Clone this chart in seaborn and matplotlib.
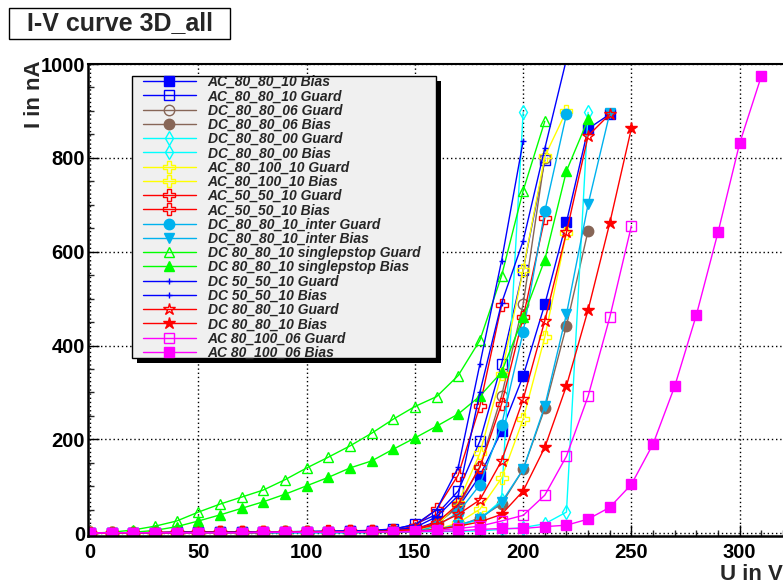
import pandas as pd
import matplotlib
matplotlib.use('Agg')
from matplotlib import pyplot as plt
from matplotlib.patches import Rectangle
from matplotlib.ticker import MultipleLocator
import seaborn as sns

sns.set_theme(style='white')
plt.rcParams['font.family'] = ['Liberation Sans', 'DejaVu Sans']
plt.rcParams['font.weight'] = 'bold'

#voltage steps (V)
volts = [0, 10, 20, 30, 40, 50, 60, 70, 80, 90, 100, 110, 120, 130, 140, 150,
         160, 170, 180, 190, 200, 210, 220, 230, 240, 250, 260, 270, 280, 290, 300, 310]

#currents in nA
ac_80_80_10_bias = [0, 1, 1, 1, 2, 2, 2, 2, 3, 3, 3, 3, 4, 4, 5, 8, 25, 55, 122, 218, 335, 488, 663, 862, 893]
ac_80_80_10_guard = [0, 1, 1, 1, 1, 2, 2, 2, 2, 3, 3, 3, 4, 5, 8, 19, 40, 90, 196, 360, 561, 795]
dc_80_80_06_guard = [0, 1, 1, 1, 1, 1, 2, 2, 2, 2, 2, 3, 3, 4, 5, 8, 20, 55, 142, 292, 488, 800]
dc_80_80_06_bias = [0, 0, 1, 1, 1, 1, 1, 1, 2, 2, 2, 2, 2, 3, 3, 4, 7, 15, 33, 62, 136, 266, 442, 645]
dc_80_80_00_guard = [0, 0, 1, 1, 1, 1, 1, 1, 1, 2, 2, 2, 2, 2, 3, 4, 8, 15, 30, 70, 897]
dc_80_80_00_bias = [0, 0, 1, 1, 1, 1, 1, 1, 1, 1, 2, 2, 2, 2, 2, 3, 3, 4, 5, 8, 12, 20, 45, 897]
ac_80_100_10_guard = [0, 1, 1, 1, 1, 1, 2, 2, 2, 2, 2, 3, 3, 3, 4, 6, 15, 65, 170, 339, 561, 803, 900]
ac_80_100_10_bias = [0, 0, 1, 1, 1, 1, 1, 1, 2, 2, 2, 2, 2, 3, 3, 4, 8, 22, 51, 117, 243, 418, 640]
ac_50_50_10_guard = [0, 1, 1, 2, 2, 2, 2, 3, 3, 3, 3, 4, 4, 5, 6, 15, 51, 124, 271, 486]
ac_50_50_10_bias = [0, 1, 1, 1, 2, 2, 2, 2, 3, 3, 3, 3, 4, 4, 5, 8, 22, 62, 140, 275, 460, 672]
dc_inter_guard = [0, 1, 1, 1, 1, 1, 1, 1, 1, 1, 1, 1, 1, 2, 2, 3, 15, 44, 103, 230, 429, 686, 893]
dc_inter_bias = [0, 0, 0, 1, 1, 1, 1, 1, 1, 1, 1, 1, 1, 1, 2, 3, 8, 18, 30, 66, 136, 271, 467, 701, 895]
single_guard = [0, 2, 7, 15, 26, 45, 62, 77, 92, 114, 139, 162, 186, 213, 243, 270, 291, 336, 411, 548, 730, 878]
single_bias = [0, 0.5, 2, 6, 14, 26, 39, 53, 67, 83, 101, 119, 139, 154, 179, 203, 228, 254, 292, 343, 460, 583, 772, 882]
dc_50_50_10_guard = [0, 1, 1, 1, 2, 2, 2, 3, 3, 3, 4, 4, 5, 6, 9, 18, 50, 140, 360, 580, 836]
dc_50_50_10_bias = [0, 1, 1, 1, 1, 2, 2, 2, 3, 3, 3, 4, 4, 5, 7, 12, 35, 80, 300, 490, 623, 820, 1010]
dc_80_80_10_guard = [0, 1, 1, 1, 1, 2, 2, 2, 2, 2, 3, 3, 3, 4, 5, 8, 18, 40, 71, 154, 285, 453, 641, 847, 893]
dc_80_80_10_bias = [0, 0, 1, 1, 1, 1, 1, 1, 1, 2, 2, 2, 2, 2, 3, 4, 8, 15, 24, 40, 90, 183, 314, 476, 661, 863]
ac_80_100_06_guard = [0, 1, 1, 1, 1, 1, 1, 1, 2, 2, 2, 2, 2, 3, 3, 4, 6, 10, 15, 26, 38, 81, 164, 292, 460, 655]
ac_80_100_06_bias = [0, 1, 1, 1, 1, 1, 1, 1, 2, 2, 2, 2, 2, 3, 3, 3, 4, 5, 8, 10, 10, 14, 17, 30, 55, 104, 190, 313, 465, 641, 831, 974]

blue = '#0000ff'
brown = '#876657'
cyan = '#00ffff'
yellow = '#ffff00'
red = '#ff0000'
azure = '#00b2ee'
green = '#00ff00'
magenta = '#ff00ff'

#label, data, colour, marker, filled, marker size
series = [
    ('AC_80_80_10 Bias', ac_80_80_10_bias, blue, 's', True, 7),
    ('AC_80_80_10 Guard', ac_80_80_10_guard, blue, 's', False, 7),
    ('DC_80_80_06 Guard', dc_80_80_06_guard, brown, 'o', False, 7.5),
    ('DC_80_80_06 Bias', dc_80_80_06_bias, brown, 'o', True, 7.5),
    ('DC_80_80_00 Guard', dc_80_80_00_guard, cyan, 'd', False, 7),
    ('DC_80_80_00 Bias', dc_80_80_00_bias, cyan, 'd', False, 7),
    ('AC_80_100_10 Guard', ac_80_100_10_guard, yellow, 'P', False, 8),
    ('AC_80_100_10 Bias', ac_80_100_10_bias, yellow, 'P', False, 8),
    ('AC_50_50_10 Guard', ac_50_50_10_guard, red, 'P', False, 8),
    ('AC_50_50_10 Bias', ac_50_50_10_bias, red, 'P', False, 8),
    ('DC_80_80_10_inter Guard', dc_inter_guard, azure, 'o', True, 7.5),
    ('DC_80_80_10_inter Bias', dc_inter_bias, azure, 'v', True, 7.5),
    ('DC 80_80_10 singlepstop Guard', single_guard, green, '^', False, 7.5),
    ('DC 80_80_10 singlepstop Bias', single_bias, green, '^', True, 7.5),
    ('DC 50_50_10 Guard', dc_50_50_10_guard, blue, '+', False, 5),
    ('DC 50_50_10 Bias', dc_50_50_10_bias, blue, '+', False, 5),
    ('DC 80_80_10 Guard', dc_80_80_10_guard, red, '*', False, 9),
    ('DC 80_80_10 Bias', dc_80_80_10_bias, red, '*', True, 9),
    ('AC 80_100_06 Guard', ac_80_100_06_guard, magenta, 's', False, 7),
    ('AC 80_100_06 Bias', ac_80_100_06_bias, magenta, 's', True, 7),
]

W, H = 783, 586
fig = plt.figure(figsize=(W / 100, H / 100), dpi=100)
ax = fig.add_axes([88 / W, 1 - 536 / H, 716.6 / W, 472 / H])

for label, cur, color, marker, filled, ms in series:
    df = pd.DataFrame({'U': volts[:len(cur)], 'I': cur})
    sns.lineplot(data=df, x='U', y='I', ax=ax, color=color, marker=marker,
                 markersize=ms, markerfacecolor=color if filled else 'none',
                 markeredgecolor=color, markeredgewidth=1, linewidth=1,
                 label=label, sort=False, estimator=None)

ax.set_xlim(-1, 330)
ax.set_ylim(-6, 1000)
ax.set_xlabel('')
ax.set_ylabel('')
ax.xaxis.set_major_locator(MultipleLocator(50))
ax.xaxis.set_minor_locator(MultipleLocator(10))
ax.yaxis.set_major_locator(MultipleLocator(200))
ax.yaxis.set_minor_locator(MultipleLocator(50))
ax.grid(True, which='major', color='black', linestyle=(0, (1, 2)), linewidth=1)
ax.tick_params(which='major', direction='in', length=8, width=1, labelsize=14.5,
               bottom=True, left=True, top=False, right=False, colors='black')
ax.tick_params(which='minor', direction='in', length=4, width=1,
               bottom=True, left=True, top=False, right=False)
ax.tick_params(axis='x', pad=5)
ax.tick_params(axis='y', pad=2)
for side in ['left', 'bottom']:
    ax.spines[side].set_color('black')
    ax.spines[side].set_linewidth(1.8)
ax.spines['top'].set_color('black')
ax.spines['top'].set_linewidth(1.5)
ax.spines['top'].set_linestyle((0, (1, 1)))
ax.spines['right'].set_visible(False)

#legend box with black drop shadow, drawn by hand
box_x0, box_top, box_x1, box_bottom = 131.7, 76, 436, 358
ax.add_patch(Rectangle(((box_x0 + 5) / W, 1 - (box_bottom + 5) / H), (box_x1 - box_x0) / W,
                       (box_bottom - box_top) / H, transform=fig.transFigure,
                       facecolor='black', edgecolor='none', clip_on=False, zorder=4.7))
ax.add_patch(Rectangle((box_x0 / W, 1 - box_bottom / H), (box_x1 - box_x0) / W,
                       (box_bottom - box_top) / H, transform=fig.transFigure,
                       facecolor='#f0f0f0', edgecolor='black', linewidth=1,
                       clip_on=False, zorder=4.8))

leg = ax.legend(loc='upper left', bbox_to_anchor=(143 / W, 1 - 75 / H),
                bbox_transform=fig.transFigure, borderaxespad=0, frameon=False,
                prop={'style': 'italic', 'weight': 'bold', 'size': 10},
                handlelength=3.8, handletextpad=0.86, labelspacing=0.018, borderpad=0)

#title box
fig.patches.append(Rectangle((9 / W, 1 - 39 / H), 221 / W, 31 / H, transform=fig.transFigure,
                             facecolor='white', edgecolor='black', linewidth=1))
fig.text(120 / W, 1 - 23.5 / H, 'I-V curve 3D_all', ha='center', va='center',
         fontsize=18, fontweight='bold')

fig.text(35 / W, 1 - 60 / H, 'I in nA', rotation=90, ha='center', va='top',
         fontsize=16, fontweight='bold')
fig.text(720 / W, 1 - 564 / H, 'U in V', ha='left', va='top',
         fontsize=16, fontweight='bold')

plt.savefig('out.png', dpi=100)
